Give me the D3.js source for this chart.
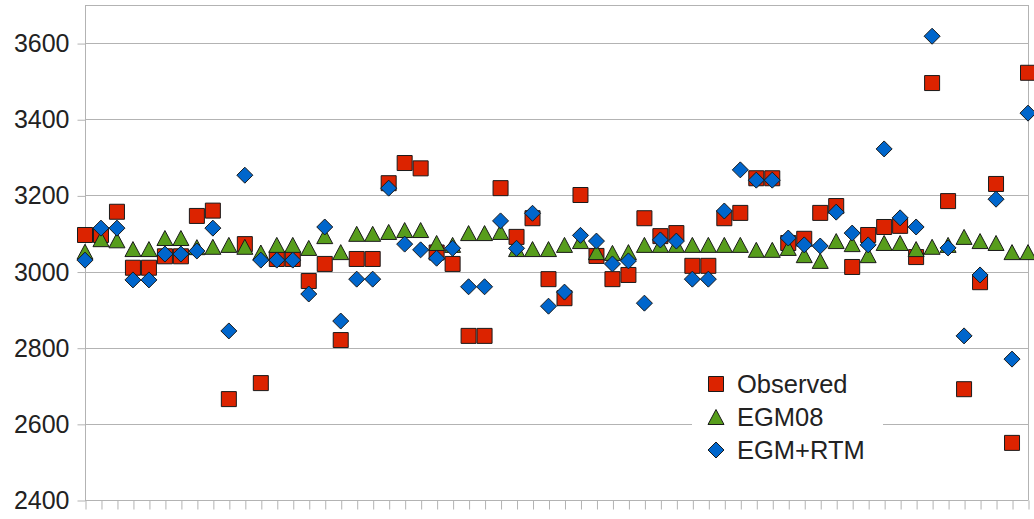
<!DOCTYPE html>
<html>
<head>
<meta charset="utf-8">
<title>Observed vs EGM08 vs EGM+RTM</title>
<script src="https://cdn.jsdelivr.net/npm/d3@7"></script>
<style>
  body { margin: 0; background: #fff; }
  text { font-family: "Liberation Sans", Arial, sans-serif; fill: #222; }
</style>
</head>
<body>
<script>
  const width = 1034, height = 519;

  // values, one per station
  const observed = [3096, 3096, 3157, 3010, 3010, 3040, 3040, 3146, 3160, 2665,
    3072, 2707, 3033, 3033, 2975, 3020, 2820, 3033, 3033, 3232,
    3285, 3271, 3050, 3020, 2831, 2831, 3219, 3091, 3140, 2980,
    2930, 3201, 3041, 2980, 2991, 3140, 3093, 3101, 3015, 3015,
    3140, 3154, 3245, 3245, 3075, 3086, 3154, 3172, 3012, 3096,
    3117, 3120, 3038, 3495, 3185, 2691, 2972, 3230, 2550, 3522];
  const egm08 = [3052, 3085, 3082, 3059, 3059, 3088, 3088, 3064, 3065, 3070,
    3065, 3050, 3070, 3070, 3062, 3093, 3051, 3099, 3099, 3104,
    3109, 3109, 3075, 3070, 3101, 3101, 3104, 3059, 3059, 3059,
    3070, 3080, 3051, 3049, 3051, 3070, 3070, 3070, 3070, 3070,
    3070, 3070, 3057, 3057, 3062, 3043, 3028, 3080, 3072, 3043,
    3075, 3075, 3059, 3065, 3070, 3091, 3080, 3075, 3051, 3051];
  const egmRtm = [3030, 3114, 3114, 2978, 2978, 3046, 3046, 3054, 3114, 2844,
    3253, 3030, 3030, 3030, 2941, 3117, 2870, 2980, 2980, 3219,
    3072, 3057, 3035, 3061, 2960, 2960, 3133, 3061, 3153, 2909,
    2946, 3095, 3080, 3020, 3028, 2917, 3083, 3080, 2980, 2980,
    3159, 3267, 3240, 3240, 3088, 3070, 3067, 3156, 3101, 3070,
    3322, 3141, 3117, 3618, 3062, 2831, 2991, 3190, 2770, 3416];
  const yTicks = [2400, 2600, 2800, 3000, 3200, 3400, 3600];
  const seriesNames = ['Observed', 'EGM08', 'EGM+RTM'];
  const seriesColors = ['#dc2300', '#579d1c', '#0066cc'];

  const plotLeft = 85, plotRight = 1028, plotTop = 5, plotBottom = 500;

  const x = d3.scaleLinear().domain([0, observed.length - 1]).range([plotLeft, plotRight]);
  const y = d3.scaleLinear().domain([2400, 3700]).range([plotBottom, plotTop]);

  const svg = d3.select('body').append('svg')
    .attr('width', width).attr('height', height);

  // grid lines
  svg.append('g').selectAll('line').data(yTicks.concat([3700])).enter()
    .append('line')
    .attr('x1', plotLeft).attr('x2', plotRight)
    .attr('y1', d => Math.round(y(d)) + 0.5).attr('y2', d => Math.round(y(d)) + 0.5)
    .attr('stroke', '#b3b3b3');

  svg.append('line')
    .attr('x1', plotRight + 0.5).attr('x2', plotRight + 0.5)
    .attr('y1', plotTop).attr('y2', plotBottom)
    .attr('stroke', '#b3b3b3');

  // y axis
  let yAxis = d3.axisLeft(y).tickValues(yTicks).tickSize(8).tickPadding(8).tickFormat(d3.format('d'));
  let yg = svg.append('g').attr('transform', `translate(${plotLeft + 0.5},0.5)`).call(yAxis);
  yg.selectAll('line, path').attr('stroke', '#b3b3b3');
  yg.select('.domain').remove();
  yg.append('line').attr('y1', plotTop).attr('y2', plotBottom).attr('stroke', '#b3b3b3');
  yg.selectAll('text').attr('font-size', 25).attr('fill', '#222')
    .attr('font-family', '"Liberation Sans", Arial, sans-serif');

  // x axis (no labels)
  let xAxis = d3.axisBottom(x).tickValues(d3.range(observed.length)).tickSize(9).tickFormat('');
  let xg = svg.append('g').attr('transform', `translate(0.5,${plotBottom + 0.5})`).call(xAxis);
  xg.selectAll('line').attr('stroke', '#b3b3b3');
  xg.select('.domain').attr('stroke', '#b3b3b3').attr('d', `M${plotLeft},0H${plotRight}`);

  // legend background cuts the grid
  svg.append('rect').attr('x', 692).attr('y', 362).attr('width', 191).attr('height', 108)
    .attr('fill', '#fff');

  const s = 7.5;
  function square(cx, cy) { return `M${cx - s},${cy - s}h${2 * s}v${2 * s}h${-2 * s}Z`; }
  function triangle(cx, cy) { return `M${cx},${cy - s}L${cx + s + 0.5},${cy + s}L${cx - s - 0.5},${cy + s}Z`; }
  function diamond(cx, cy) { return `M${cx},${cy - 8}L${cx + 8},${cy}L${cx},${cy + 8}L${cx - 8},${cy}Z`; }
  const shapes = [square, triangle, diamond];
  const data = [observed, egm08, egmRtm];

  data.forEach(function (vals, k) {
    svg.append('g').selectAll('path').data(vals).enter()
      .append('path')
      .attr('d', (d, i) => shapes[k](x(i), y(d)))
      .attr('fill', seriesColors[k])
      .attr('stroke', '#1a1a1a')
      .attr('stroke-width', 1);
  });

  // legend
  let leg = svg.append('g');
  seriesNames.forEach(function (name, k) {
    let cy = 384 + k * 33;
    leg.append('path').attr('d', shapes[k](716, cy))
      .attr('fill', seriesColors[k]).attr('stroke', '#1a1a1a');
    leg.append('text').attr('x', 737).attr('y', cy + 9)
      .attr('font-size', 25.5).text(name);
  });
</script>
</body>
</html>
